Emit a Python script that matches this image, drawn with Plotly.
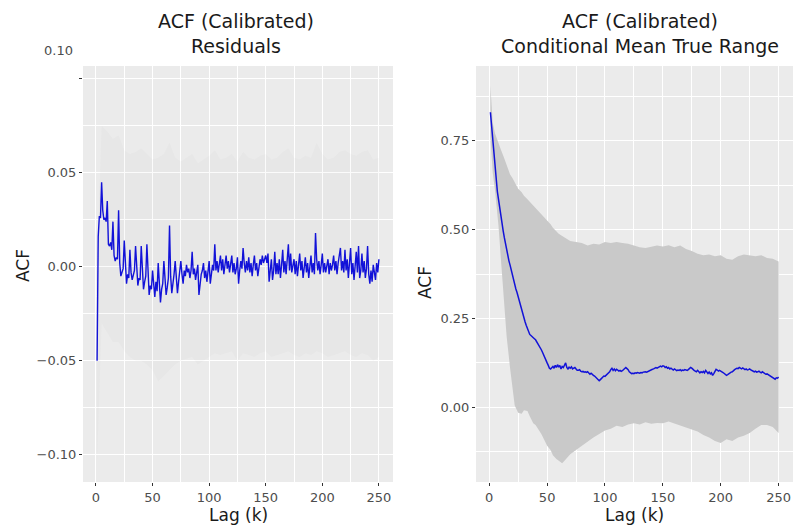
import plotly.graph_objects as go

# ---------------- data ----------------
lags = list(range(1, 251))

resid_acf = [
    -0.050, 0.016, 0.027, 0.026, 0.045, 0.030, 0.025, 0.026, 0.024, 0.035,
    0.012, 0.011, 0.013, 0.009, 0.024, 0.006, 0.003, 0.005, 0.004, 0.030,
    0.002, -0.005, -0.003, -0.001, 0.014, -0.002, -0.009, -0.004, -0.006, 0.009,
    -0.003, -0.007, -0.005, -0.002, 0.011, -0.004, -0.010, -0.006, -0.007, 0.011,
    -0.006, -0.012, -0.008, -0.005, 0.012, -0.008, -0.015, -0.010, -0.012, -0.002,
    -0.009, -0.016, -0.008, -0.013, 0.002, -0.010, -0.019, -0.012, -0.009, 0.003,
    -0.008, -0.015, -0.011, -0.006, 0.022, -0.005, -0.014, -0.010, -0.004, 0.003,
    -0.006, -0.014, -0.008, -0.002, 0.003, -0.004, -0.009, -0.002, -0.005, 0.001,
    -0.003, -0.001, -0.006, -0.002, 0.008, -0.004, -0.001, -0.007, -0.003, 0.001,
    -0.015, -0.008, -0.004, -0.002, 0.002, -0.006, -0.002, -0.008, -0.003, 0.003,
    -0.009, -0.003, 0.001, -0.002, 0.012, -0.002, 0.003, -0.003, 0.001, 0.006,
    -0.002, 0.004, -0.004, 0.001, 0.006, -0.001, 0.003, -0.003, 0.001, 0.006,
    -0.003, 0.002, -0.004, -0.001, 0.005, -0.009, -0.002, 0.003, -0.001, 0.010,
    0.002, -0.003, 0.003, -0.002, 0.005, -0.003, 0.002, -0.005, 0.001, 0.006,
    -0.002, 0.002, -0.005, 0.001, 0.004, 0.001, 0.006, 0.002, 0.004, 0.006,
    0.002, 0.007, -0.008, -0.003, 0.004, -0.007, -0.002, 0.008, -0.004, 0.002,
    -0.004, 0.004, -0.006, 0.001, 0.009, -0.003, 0.003, -0.004, 0.002, 0.012,
    -0.002, 0.007, -0.003, 0.002, 0.004, -0.004, 0.003, -0.005, 0.001, 0.007,
    -0.002, 0.003, -0.006, 0.000, 0.005, -0.003, 0.002, -0.006, 0.001, 0.006,
    -0.003, 0.002, -0.004, 0.018, 0.004, -0.002, 0.003, -0.004, 0.001, 0.007,
    -0.003, 0.002, -0.003, 0.001, 0.004, -0.004, 0.002, -0.002, 0.001, 0.006,
    -0.002, 0.003, -0.004, 0.002, 0.008, 0.010, -0.002, 0.003, -0.003, 0.009,
    -0.002, 0.004, -0.006, 0.001, 0.010, -0.004, 0.002, -0.007, -0.001, 0.008,
    -0.003, 0.011, -0.006, -0.002, 0.007, -0.003, 0.003, -0.006, -0.001, 0.011,
    -0.004, -0.009, -0.002, -0.008, 0.001, -0.005, -0.007, 0.002, -0.003, 0.004,
]

resid_band_lags = [1, 5, 10, 15, 20, 25, 30, 35, 40, 45, 50, 55, 60, 65, 70, 75, 80,
                   85, 90, 95, 100, 105, 110, 115, 120, 125, 130, 135, 140, 145, 150,
                   155, 160, 165, 170, 175, 180, 185, 190, 195, 200, 205, 210, 215,
                   220, 225, 230, 235, 240, 245, 250]
resid_upper = [0.000, 0.075, 0.072, 0.068, 0.070, 0.062, 0.060, 0.061, 0.063, 0.060,
               0.057, 0.058, 0.060, 0.066, 0.058, 0.056, 0.058, 0.060, 0.055, 0.057,
               0.059, 0.062, 0.057, 0.058, 0.060, 0.056, 0.061, 0.058, 0.057, 0.059,
               0.060, 0.057, 0.058, 0.061, 0.063, 0.058, 0.057, 0.059, 0.058, 0.066,
               0.060, 0.057, 0.058, 0.061, 0.062, 0.060, 0.059, 0.061, 0.062, 0.057,
               0.058]
resid_lower = [-0.104, -0.030, -0.035, -0.040, -0.040, -0.045, -0.048, -0.050, -0.050,
               -0.052, -0.055, -0.061, -0.058, -0.055, -0.052, -0.050, -0.049, -0.048,
               -0.052, -0.050, -0.048, -0.046, -0.047, -0.046, -0.045, -0.050, -0.046,
               -0.047, -0.048, -0.046, -0.045, -0.048, -0.047, -0.046, -0.045, -0.047,
               -0.048, -0.046, -0.047, -0.045, -0.046, -0.048, -0.047, -0.046, -0.045,
               -0.047, -0.048, -0.046, -0.047, -0.050, -0.048]

cmtr_acf = [
    0.830, 0.790, 0.752, 0.715, 0.680, 0.640, 0.607, 0.585, 0.560, 0.540,
    0.515, 0.497, 0.478, 0.460, 0.445, 0.428, 0.412, 0.400, 0.385, 0.372,
    0.358, 0.345, 0.333, 0.323, 0.310, 0.298, 0.285, 0.272, 0.262, 0.252,
    0.240, 0.230, 0.220, 0.212, 0.205, 0.202, 0.198, 0.195, 0.193, 0.190,
    0.185, 0.180, 0.172, 0.168, 0.162, 0.155, 0.146, 0.138, 0.130, 0.125,
    0.118, 0.110, 0.108, 0.112, 0.115, 0.110, 0.118, 0.112, 0.120, 0.113,
    0.118, 0.108, 0.115, 0.112, 0.118, 0.125, 0.112, 0.108, 0.113, 0.110,
    0.114, 0.108, 0.110, 0.112, 0.108, 0.104, 0.104, 0.106, 0.102, 0.100,
    0.101, 0.099, 0.100, 0.098, 0.100, 0.096, 0.093, 0.096, 0.092, 0.090,
    0.088, 0.085, 0.080, 0.078, 0.075, 0.078, 0.082, 0.085, 0.088, 0.087,
    0.090, 0.092, 0.095, 0.100, 0.106, 0.110, 0.104, 0.108, 0.103, 0.107,
    0.105, 0.102, 0.104, 0.101, 0.103, 0.106, 0.110, 0.112, 0.109, 0.106,
    0.100, 0.097, 0.095, 0.096, 0.095, 0.097, 0.096, 0.098, 0.097, 0.096,
    0.098, 0.097, 0.099, 0.100, 0.100, 0.099, 0.101, 0.102, 0.104, 0.106,
    0.107, 0.108, 0.110, 0.112, 0.110, 0.112, 0.114, 0.116, 0.114, 0.117,
    0.116, 0.112, 0.114, 0.110, 0.112, 0.108, 0.110, 0.106, 0.105, 0.108,
    0.106, 0.103, 0.105, 0.104, 0.106, 0.103, 0.105, 0.104, 0.106, 0.105,
    0.104, 0.106, 0.108, 0.112, 0.110, 0.106, 0.104, 0.102, 0.100, 0.104,
    0.101, 0.097, 0.100, 0.098, 0.101, 0.097, 0.104, 0.098, 0.095, 0.099,
    0.094, 0.097, 0.090, 0.095, 0.104, 0.107, 0.105, 0.102, 0.104, 0.103,
    0.100, 0.098, 0.095, 0.092, 0.090, 0.092, 0.095, 0.097, 0.099, 0.100,
    0.104, 0.106, 0.108, 0.110, 0.109, 0.112, 0.110, 0.108, 0.111, 0.109,
    0.106, 0.108, 0.105, 0.106, 0.108, 0.105, 0.103, 0.101, 0.100, 0.102,
    0.099, 0.100, 0.102, 0.099, 0.097, 0.100, 0.097, 0.095, 0.093, 0.094,
    0.092, 0.090, 0.088, 0.085, 0.083, 0.080, 0.079, 0.083, 0.082, 0.085,
]

cmtr_band_lags = [1, 2, 3, 5, 8, 10, 13, 15, 18, 20, 22, 25, 28, 30, 33, 35, 38, 40,
                  43, 45, 48, 50, 53, 55, 58, 60, 63, 65, 68, 70, 75, 80, 85, 90, 95,
                  100, 105, 110, 115, 120, 125, 130, 135, 140, 145, 150, 155, 160,
                  165, 170, 175, 180, 185, 190, 195, 200, 205, 210, 215, 220, 225,
                  230, 235, 240, 245, 250]
cmtr_upper = [0.905, 0.860, 0.800, 0.770, 0.740, 0.725, 0.700, 0.680, 0.655, 0.645,
              0.632, 0.615, 0.605, 0.595, 0.585, 0.578, 0.570, 0.562, 0.552, 0.545,
              0.535, 0.528, 0.515, 0.505, 0.495, 0.488, 0.482, 0.478, 0.470, 0.468,
              0.465, 0.462, 0.455, 0.460, 0.458, 0.465, 0.462, 0.465, 0.462, 0.460,
              0.455, 0.450, 0.448, 0.452, 0.455, 0.452, 0.456, 0.450, 0.455, 0.445,
              0.440, 0.432, 0.428, 0.430, 0.425, 0.428, 0.418, 0.415, 0.425, 0.430,
              0.428, 0.425, 0.428, 0.420, 0.418, 0.410]
cmtr_lower = [0.760, 0.700, 0.660, 0.610, 0.510, 0.420, 0.270, 0.200, 0.110, 0.060,
              0.005, -0.015, -0.018, -0.008, -0.010, -0.025, -0.045, -0.050, -0.065,
              -0.075, -0.095, -0.108, -0.120, -0.135, -0.145, -0.150, -0.157, -0.150,
              -0.140, -0.132, -0.120, -0.108, -0.098, -0.085, -0.075, -0.065, -0.060,
              -0.052, -0.055, -0.048, -0.045, -0.048, -0.042, -0.046, -0.044, -0.045,
              -0.040, -0.045, -0.050, -0.055, -0.062, -0.068, -0.078, -0.085, -0.095,
              -0.100, -0.090, -0.095, -0.085, -0.080, -0.072, -0.060, -0.050, -0.050,
              -0.055, -0.072]

x_ticks = [0, 50, 100, 150, 200, 250]
x_minor = [25, 75, 125, 175, 225]
left_y_ticks = [-0.10, -0.05, 0.00, 0.05, 0.10]
left_y_labels = ["\u22120.10", "\u22120.05", "0.00", "0.05", ""]
left_y_minor = [-0.075, -0.025, 0.025, 0.075]
right_y_ticks = [0.00, 0.25, 0.50, 0.75]
right_y_labels = ["0.00", "0.25", "0.50", "0.75"]
right_y_minor = [-0.125, 0.125, 0.375, 0.625, 0.875]

# ---------------- figure ----------------
W, H = 795, 529
FONT = "DejaVu Sans, Liberation Sans, Arial, sans-serif"
LINE = "#1212D8"

fig = go.Figure()

# left panel ribbon + line
fig.add_trace(go.Scatter(x=resid_band_lags, y=resid_upper, mode="lines",
                         line=dict(width=0), hoverinfo="skip", showlegend=False,
                         xaxis="x", yaxis="y"))
fig.add_trace(go.Scatter(x=resid_band_lags, y=resid_lower, mode="lines",
                         line=dict(width=0), fill="tonexty",
                         fillcolor="rgba(140,140,140,0.035)", hoverinfo="skip",
                         showlegend=False, xaxis="x", yaxis="y"))
fig.add_trace(go.Scatter(x=lags, y=resid_acf, mode="lines",
                         line=dict(color=LINE, width=1.4), showlegend=False,
                         xaxis="x", yaxis="y"))

# right panel ribbon + line
fig.add_trace(go.Scatter(x=cmtr_band_lags, y=cmtr_upper, mode="lines",
                         line=dict(width=0), hoverinfo="skip", showlegend=False,
                         xaxis="x2", yaxis="y2"))
fig.add_trace(go.Scatter(x=cmtr_band_lags, y=cmtr_lower, mode="lines",
                         line=dict(width=0), fill="tonexty",
                         fillcolor="rgb(201,201,201)", hoverinfo="skip",
                         showlegend=False, xaxis="x2", yaxis="y2"))
fig.add_trace(go.Scatter(x=lags, y=cmtr_acf, mode="lines",
                         line=dict(color=LINE, width=1.5), showlegend=False,
                         xaxis="x2", yaxis="y2"))

def px_x(p):
    return p / W

def px_y(p):
    return 1 - p / H

tickfont = dict(family=FONT, size=13, color="#4D4D4D")
common_axis = dict(showline=False, zeroline=False, ticks="outside", ticklen=3,
                   tickwidth=1, tickcolor="#333333", gridcolor="white", gridwidth=1.3,
                   tickfont=tickfont, fixedrange=True)

y_dom = [px_y(482), px_y(66)]

fig.update_layout(
    width=W, height=H,
    margin=dict(l=0, r=0, t=0, b=0),
    paper_bgcolor="white", plot_bgcolor="#EBEBEB",
    font=dict(family=FONT),
    showlegend=False,
    xaxis=dict(domain=[px_x(83), px_x(393)], range=[-11.45, 262.45],
               tickvals=x_ticks, ticktext=[str(v) for v in x_ticks],
               minor=dict(tickvals=x_minor, showgrid=True, gridcolor="white",
                          gridwidth=0.6, ticks=""),
               anchor="y", **common_axis),
    yaxis=dict(domain=y_dom, range=[-0.1145, 0.1068],
               tickvals=left_y_ticks, ticktext=left_y_labels,
               minor=dict(tickvals=left_y_minor, showgrid=True, gridcolor="white",
                          gridwidth=0.6, ticks=""),
               anchor="x", **common_axis),
    xaxis2=dict(domain=[px_x(476), px_x(793)], range=[-11.45, 262.45],
                tickvals=x_ticks, ticktext=[str(v) for v in x_ticks],
                minor=dict(tickvals=x_minor, showgrid=True, gridcolor="white",
                           gridwidth=0.6, ticks=""),
                anchor="y2", **common_axis),
    yaxis2=dict(domain=y_dom, range=[-0.21, 0.96],
                tickvals=right_y_ticks, ticktext=right_y_labels,
                minor=dict(tickvals=right_y_minor, showgrid=True, gridcolor="white",
                           gridwidth=0.6, ticks=""),
                anchor="x2", **common_axis),
)

ann = []
title_font = dict(family=FONT, size=19, color="#1A1A1A")
ann.append(dict(text="ACF (Calibrated)<br>Residuals", x=px_x(236), y=px_y(8),
                xref="paper", yref="paper", xanchor="center", yanchor="top",
                showarrow=False, font=title_font, align="center"))
ann.append(dict(text="ACF (Calibrated)<br>Conditional Mean True Range", x=px_x(640),
                y=px_y(8), xref="paper", yref="paper", xanchor="center",
                yanchor="top", showarrow=False, font=title_font, align="center"))
axis_font = dict(family=FONT, size=17, color="#1A1A1A")
ann.append(dict(text="ACF", x=px_x(23), y=px_y(266), xref="paper", yref="paper",
                xanchor="center", yanchor="middle", textangle=-90, showarrow=False,
                font=axis_font))
ann.append(dict(text="ACF", x=px_x(425), y=px_y(283), xref="paper", yref="paper",
                xanchor="center", yanchor="middle", textangle=-90, showarrow=False,
                font=axis_font))
ann.append(dict(text="Lag (k)", x=px_x(238), y=px_y(515), xref="paper", yref="paper",
                xanchor="center", yanchor="middle", showarrow=False, font=axis_font))
ann.append(dict(text="Lag (k)", x=px_x(634), y=px_y(515), xref="paper", yref="paper",
                xanchor="center", yanchor="middle", showarrow=False, font=axis_font))
# displaced "0.10" label as in the original
ann.append(dict(text="0.10", x=px_x(75), y=px_y(50), xref="paper", yref="paper",
                xanchor="right", yanchor="middle", showarrow=False, font=tickfont))
fig.update_layout(annotations=ann)

fig.write_html("out.html", config={"displayModeBar": False},
               post_script="document.body.style.margin='0';document.body.style.padding='0';")
